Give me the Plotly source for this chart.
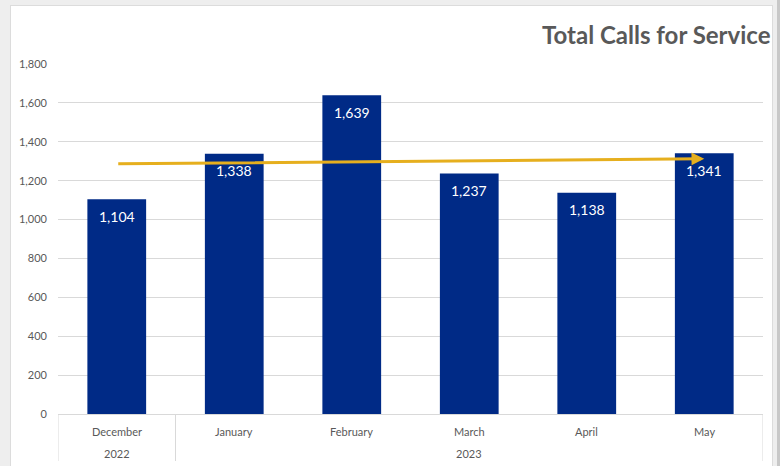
import numpy as np
import plotly.graph_objects as go

# ---- data ----
months = ["December", "January", "February", "March", "April", "May"]
years = ["2022", "2023"]
year_groups = [[0], [1, 2, 3, 4, 5]]  # month indices belonging to each year
calls = [1104, 1338, 1639, 1237, 1138, 1341]
y_ticks = [0, 200, 400, 600, 800, 1000, 1200, 1400, 1600, 1800]
title_text = "Total Calls for Service"

# ---- layout constants ----
W, H = 780, 466
L, R, T, B = 58, 17, 64, 52
PW, PH = W - L - R, H - T - B
FONT = "Lato, 'Open Sans', sans-serif"
GRAY_TXT = "#595959"
GRID = "#d9d9d9"
BAR = "#002A86"
GOLD = "#E6AF1E"


def px_x(p):
    return (p - L) / PW


def px_y(p):
    return (H - B - p) / PH


xs = list(range(len(months)))
coef = np.polyfit(xs, calls, 1)
trend = np.polyval(coef, xs)

fig = go.Figure()
fig.add_trace(go.Bar(
    x=xs, y=calls, width=0.5,
    marker=dict(color=BAR, line=dict(width=0)),
    hoverinfo="skip", showlegend=False,
))

annotations = []
# trend arrow
annotations.append(dict(
    x=xs[-1], y=trend[-1], ax=xs[0], ay=trend[0],
    xref="x", yref="y", axref="x", ayref="y",
    text="", showarrow=True, arrowhead=2, arrowsize=0.85,
    arrowwidth=3, arrowcolor=GOLD, standoff=0, startstandoff=0,
))
# bar labels
for i, v in zip(xs, calls):
    annotations.append(dict(
        x=i, y=v, xref="x", yref="y", text=f"{v:,}", showarrow=False,
        yanchor="middle", yshift=-17,
        font=dict(family=FONT, size=14, color="white"),
    ))
# month labels
for i, m in zip(xs, months):
    annotations.append(dict(
        x=i, y=0, xref="x", yref="paper", text=m, showarrow=False,
        yanchor="middle", yshift=-17,
        font=dict(family=FONT, size=11, color=GRAY_TXT),
    ))
# year labels
for yr, grp in zip(years, year_groups):
    annotations.append(dict(
        x=(grp[0] + grp[-1]) / 2, y=0, xref="x", yref="paper", text=yr,
        showarrow=False, yanchor="middle", yshift=-39,
        font=dict(family=FONT, size=11, color=GRAY_TXT),
    ))
# title
annotations.append(dict(
    x=px_x(773), y=px_y(35), xref="paper", yref="paper", text=title_text,
    showarrow=False, xanchor="right", yanchor="middle",
    font=dict(family=FONT, size=24, color=GRAY_TXT, weight="bold"),
))

shapes = []
# category separators
sep_positions = [-0.5] + [grp[-1] + 0.5 for grp in year_groups]
for sx in sep_positions:
    shapes.append(dict(type="line", xref="x", yref="paper", x0=sx, x1=sx,
                       y0=0, y1=px_y(461), line=dict(color=GRID, width=1)))
# outer gray strips (window frame)
strip = "#eeeeee"
shapes += [
    dict(type="rect", xref="paper", yref="paper", x0=px_x(0), x1=px_x(10),
         y0=px_y(H), y1=px_y(0), fillcolor=strip, line=dict(width=0), layer="above"),
    dict(type="rect", xref="paper", yref="paper", x0=px_x(0), x1=px_x(W),
         y0=px_y(5), y1=px_y(0), fillcolor=strip, line=dict(width=0), layer="above"),
    dict(type="rect", xref="paper", yref="paper", x0=px_x(773), x1=px_x(W),
         y0=px_y(H), y1=px_y(0), fillcolor=strip, line=dict(width=0), layer="above"),
    dict(type="rect", xref="paper", yref="paper", x0=px_x(777), x1=px_x(W),
         y0=px_y(H), y1=px_y(0), fillcolor="#c8c8c8", line=dict(width=0), layer="above"),
    dict(type="line", xref="paper", yref="paper", x0=px_x(10.5), x1=px_x(10.5),
         y0=px_y(H), y1=px_y(5), line=dict(color="#dcdcdc", width=1), layer="above"),
    dict(type="line", xref="paper", yref="paper", x0=px_x(10), x1=px_x(773),
         y0=px_y(5.5), y1=px_y(5.5), line=dict(color="#dcdcdc", width=1), layer="above"),
    dict(type="line", xref="paper", yref="paper", x0=px_x(772.5), x1=px_x(772.5),
         y0=px_y(H), y1=px_y(5), line=dict(color="#dcdcdc", width=1), layer="above"),
]

fig.update_layout(
    width=W, height=H,
    margin=dict(l=L, r=R, t=T, b=B, pad=0),
    paper_bgcolor="white", plot_bgcolor="white",
    font=dict(family=FONT, color=GRAY_TXT),
    showlegend=False,
    annotations=annotations,
    shapes=shapes,
    xaxis=dict(range=[-0.5, len(months) - 0.5], showticklabels=False,
               showgrid=False, zeroline=False, ticks="",
               showline=True, linecolor=GRID, linewidth=1, fixedrange=True),
    yaxis=dict(range=[0, 1800], tickvals=y_ticks,
               ticktext=[f"{t:,}" for t in y_ticks],
               tickfont=dict(family=FONT, size=11, color=GRAY_TXT),
               showgrid=True, gridcolor=GRID, gridwidth=1,
               zeroline=False, showline=False, ticks="",
               ticklabelstandoff=10, fixedrange=True),
)

fig.write_html(
    "out.html",
    config={"displayModeBar": False},
    post_script="document.body.style.margin='0';document.body.style.overflow='hidden';",
)
